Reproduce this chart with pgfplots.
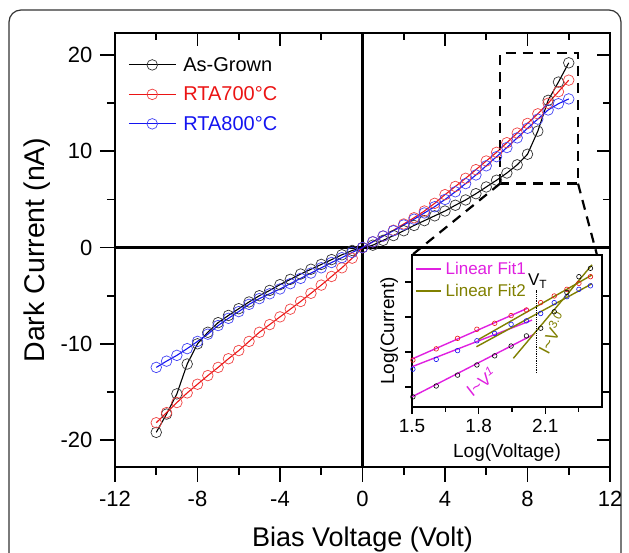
\documentclass[border=0pt]{standalone}
\usepackage{fontspec}
\setmainfont{Liberation Sans}
\usepackage{pgfplots}
\pgfplotsset{compat=1.18}
\definecolor{fitmag}{RGB}{224,32,224}
\definecolor{fitolive}{RGB}{128,128,0}
\definecolor{myred}{RGB}{235,20,20}
\definecolor{myblue}{RGB}{20,20,240}
\pgfplotsset{/pgf/number format/assume math mode=true}

\pgfplotstableread{
x y
-10 -19.2
-9.5 -17.3
-9 -15.2
-8.5 -12.1
-8 -10.0
-7.5 -8.8
-7 -7.8
-6.5 -7.05
-6 -6.35
-5.5 -5.65
-5 -5.0
-4.5 -4.45
-4 -3.85
-3.5 -3.3
-3 -2.75
-2.5 -2.25
-2 -1.75
-1.5 -1.25
-1 -0.75
-0.5 -0.3
0 0
0.5 0.25
1 0.75
1.5 1.25
2 1.75
2.5 2.3
3 2.8
3.5 3.3
4 3.8
4.5 4.4
5 4.95
5.5 5.6
6 6.3
6.5 7.0
7 7.75
7.5 8.6
8 9.7
8.5 12.1
9 15.3
9.5 17.2
10 19.2
}\asgrown

\pgfplotstableread{
x y
-10 -18.2
-9.5 -17.15
-9 -16.1
-8.5 -15.1
-8 -14.2
-7.5 -13.3
-7 -12.45
-6.5 -11.55
-6 -10.7
-5.5 -9.75
-5 -8.8
-4.5 -8.0
-4 -7.2
-3.5 -6.4
-3 -5.6
-2.5 -4.75
-2 -3.9
-1.5 -3.0
-1 -2.1
-0.5 -1.1
0 0
0.5 0.6
1 1.2
1.5 1.8
2 2.45
2.5 3.1
3 3.8
3.5 4.6
4 5.5
4.5 6.35
5 7.2
5.5 8.1
6 9.0
6.5 9.9
7 10.9
7.5 11.9
8 12.9
8.5 13.9
9 15.0
9.5 16.2
10 17.4
}\rtaseven

\pgfplotstableread{
x y
-10 -12.45
-9.5 -11.8
-9 -11.2
-8.5 -10.5
-8 -9.75
-7.5 -9.0
-7 -8.1
-6.5 -7.35
-6 -6.65
-5.5 -5.9
-5 -5.3
-4.5 -4.8
-4 -4.3
-3.5 -3.75
-3 -3.2
-2.5 -2.65
-2 -2.1
-1.5 -1.55
-1 -1.05
-0.5 -0.5
0 0
0.5 0.6
1 1.2
1.5 1.75
2 2.35
2.5 2.95
3 3.6
3.5 4.25
4 5.0
4.5 5.8
5 6.65
5.5 7.55
6 8.5
6.5 9.45
7 10.4
7.5 11.4
8 12.4
8.5 13.35
9 14.3
9.5 14.95
10 15.45
}\rtaeight

\pgfplotstableread{
x red blue black
1.504 1.77 1.51 0.72
1.609 2.09 1.79 1.03
1.705 2.39 2.04 1.34
1.792 2.65 2.32 1.63
1.872 2.82 2.53 1.89
1.946 3.04 2.79 2.17
2.015 3.20 2.89 2.46
2.079 3.41 3.10 2.68
2.140 3.60 3.41 3.15
2.197 3.79 3.58 3.70
2.251 3.96 3.79 4.15
2.303 4.15 3.89 4.39
}\inset

\begin{document}
\begin{tikzpicture}[x=1pt,y=1pt]
\path[use as bounding box] (0,0) rectangle (629,553);
\draw[line width=1.2pt, black!80, rounded corners=12pt] (9,-30) -- (9,543) -- (621,543) -- (621,-30);

\begin{axis}[
  at={(115pt,86pt)}, anchor=south west,
  scale only axis, width=495pt, height=434pt,
  xmin=-12, xmax=12, ymin=-22.8, ymax=22.3,
  xtick={-12,-8,...,12}, minor xtick={-10,-6,...,10},
  ytick={-20,-10,...,20}, minor ytick={-15,-5,5,15},
  tick align=outside, xtick pos=bottom, ytick pos=left,
  major tick length=15pt, minor tick length=8pt,
  every tick/.style={line width=1.8pt, black},
  axis line style={line width=2.2pt},
  tick label style={font=\fontsize{22}{22}\selectfont},
  xticklabel style={yshift=-6pt},
  yticklabel style={xshift=-4pt},
  xlabel={Bias Voltage (Volt)},
  ylabel={Dark Current (nA)},
  every axis x label/.style={at={(axis description cs:0.5,-0.168)}, anchor=center, font=\fontsize{27}{27}\selectfont},
  every axis y label/.style={at={(axis description cs:-0.158,0.5)}, rotate=90, anchor=center, font=\fontsize{28.5}{28.5}\selectfont},
  legend style={at={(axis description cs:0,1)}, anchor=north west, xshift=13pt, yshift=-22pt,
    draw=none, fill=none, font=\fontsize{20}{20}\selectfont, row sep=10pt, column sep=5pt, inner sep=0pt},
  legend cell align=left,
  legend image code/.code={\draw[mark repeat=2,mark phase=2,#1] plot coordinates {(0pt,0pt)(23.5pt,0pt)(47pt,0pt)};},
  clip=false,
]
\draw[line width=2.2pt] (axis cs:-12,0) -- (axis cs:12,0);
\draw[line width=2.2pt] (axis cs:0,-22.8) -- (axis cs:0,22.3);
\addplot[black, line width=1.1pt, mark=o, mark size=5.3pt, mark options={line width=0.7pt, black!80}] table[x=x,y=y] {\asgrown};
\addlegendentry{As-Grown}
\addplot[myred, line width=1.1pt, mark=o, mark size=5.3pt, mark options={line width=0.7pt, myred!80}] table[x=x,y=y] {\rtaseven};
\addlegendentry{\textcolor{myred}{RTA700°C}}
\addplot[myblue, line width=1.1pt, mark=o, mark size=5.3pt, mark options={line width=0.7pt, myblue!80}] table[x=x,y=y] {\rtaeight};
\addlegendentry{\textcolor{myblue}{RTA800°C}}
\draw[line width=2.2pt, dash pattern=on 10pt off 7pt] (axis cs:6.67,6.65) rectangle (axis cs:10.45,20.2);
\coordinate (rbl) at (axis cs:6.67,6.65);
\coordinate (rbr) at (axis cs:10.45,6.65);
\end{axis}

\begin{axis}[
  at={(115pt,86pt)}, anchor=south west,
  scale only axis, width=495pt, height=434pt,
  xmin=-12, xmax=12, ymin=-22.8, ymax=22.3,
  xtick={-12,-8,...,12}, minor xtick={-10,-6,...,10},
  ytick={-20,-10,...,20}, minor ytick={-15,-5,5,15},
  tick align=inside, xtick pos=top, ytick pos=right,
  major tick length=13pt, minor tick length=7pt,
  every tick/.style={line width=1.8pt, black},
  axis line style={line width=2.2pt},
  xticklabels={}, yticklabels={},
]
\end{axis}

\draw[line width=2.2pt, dash pattern=on 10pt off 7pt] (rbl) -- (412,298);
\draw[line width=2.2pt, dash pattern=on 10pt off 7pt] (rbr) -- (597,298);

\begin{axis}[
  at={(412pt,146pt)}, anchor=south west,
  scale only axis, width=190pt, height=152pt,
  xmin=1.5, xmax=2.355, ymin=0.43, ymax=4.77,
  axis background/.style={fill=white},
  xtick={1.5,1.8,2.1}, minor xtick={1.65,1.95,2.25},
  xticklabels={1.5,1.8,2.1},
  ytick={1,2,3,4}, yticklabels={},
  tick align=outside, xtick pos=bottom, ytick pos=left,
  major tick length=7pt, minor tick length=5pt,
  every tick/.style={line width=1.4pt, black},
  axis line style={line width=1.6pt},
  tick label style={font=\fontsize{19}{19}\selectfont},
  xticklabel style={yshift=-2pt},
  xlabel={Log(Voltage)}, ylabel={Log(Current)},
  every axis x label/.style={at={(axis description cs:0.5,-0.30)}, anchor=center, font=\fontsize{19}{19}\selectfont},
  every axis y label/.style={at={(axis description cs:-0.12,0.5)}, rotate=90, anchor=center, font=\fontsize{19}{19}\selectfont},
  legend style={at={(axis description cs:0,1)}, anchor=north west, xshift=3pt, yshift=-5pt,
    draw=none, fill=none, font=\fontsize{17}{17}\selectfont, row sep=4pt, column sep=2pt, inner sep=0pt},
  legend cell align=left,
  legend image code/.code={\draw[#1] (0pt,0pt) -- (25pt,0pt);},
  clip=false,
]
\addplot[fitmag, line width=1.4pt, forget plot] coordinates {(1.5,1.80) (2.02,3.25)};
\addplot[fitmag, line width=1.4pt] coordinates {(1.5,1.58) (2.04,2.91)};
\addlegendentry{\textcolor{fitmag}{Linear Fit1}}
\addplot[fitolive, line width=1.4pt] coordinates {(1.80,2.36) (2.31,4.20)};
\addlegendentry{\textcolor{fitolive}{Linear Fit2}}
\addplot[fitmag, line width=1.4pt, forget plot] coordinates {(1.5,0.72) (2.05,2.51)};
\addplot[fitolive, line width=1.4pt, forget plot] coordinates {(1.79,2.15) (2.31,3.95)};
\addplot[fitolive, line width=1.4pt, forget plot] coordinates {(1.956,1.82) (2.31,4.49)};
\addplot[black, line width=1.3pt, densely dotted, forget plot] coordinates {(2.06,1.4) (2.06,3.77)};
\addplot[only marks, mark=o, mark size=2.3pt, myred, mark options={line width=0.6pt}, forget plot] table[x=x,y=red] {\inset};
\addplot[only marks, mark=o, mark size=2.3pt, myblue, mark options={line width=0.6pt}, forget plot] table[x=x,y=blue] {\inset};
\addplot[only marks, mark=o, mark size=2.3pt, black, mark options={line width=0.6pt}, forget plot] table[x=x,y=black] {\inset};
\node[font=\fontsize{17}{17}\selectfont] at (axis cs:2.065,4.02) {V\textsubscript{T}};
\node[font=\fontsize{17}{17}\selectfont, text=fitmag, rotate=38] at (axis cs:1.81,1.15) {I\textasciitilde V\textsuperscript{\itshape 1}};
\node[font=\fontsize{17}{17}\selectfont, text=fitolive, rotate=62] at (axis cs:2.13,2.54) {I\textasciitilde V\textsuperscript{3.0}};
\end{axis}
\end{tikzpicture}
\end{document}
